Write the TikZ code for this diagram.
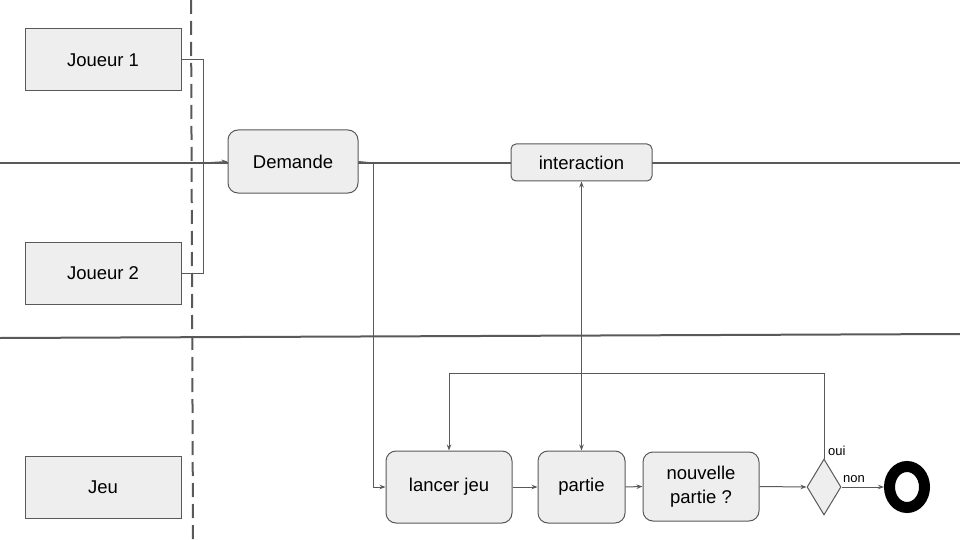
\documentclass[tikz,border=0pt]{standalone}
\usepackage{fontspec}
\setmainfont{Liberation Sans}
\usetikzlibrary{shapes.geometric,arrows.meta}
\definecolor{ln}{HTML}{595959}
\definecolor{bx}{HTML}{EEEEEE}
\tikzset{
  actor/.style={draw=ln,fill=bx,line width=1pt,rectangle,minimum width=156pt,minimum height=62pt,inner sep=0pt,font=\fontsize{18.5}{22}\selectfont},
  act/.style={draw=ln,fill=bx,line width=1pt,rectangle,rounded corners=10pt,inner sep=0pt,align=center,font=\fontsize{18.5}{24}\selectfont},
  conn/.style={draw=ln,line width=1pt},
  arr/.style={conn,-{Stealth[length=6pt,width=4.5pt]}},
  lane/.style={draw=ln,line width=2pt},
  small/.style={font=\fontsize{13}{15}\selectfont,inner sep=0pt}
}
\begin{document}
\begin{tikzpicture}[x=1pt,y=-1pt]
\useasboundingbox (0,0) rectangle (960,540);
% lanes
\draw[lane] (0,163) -- (960,163);
\draw[lane] (0,338) -- (960,334);
\draw[lane,dash pattern=on 14pt off 7pt] (191,0) -- (193,540);
% actors
\node[actor] (j1) at (103,60) {Joueur 1};
\node[actor] (j2) at (103,273) {Joueur 2};
\node[actor] (jeu) at (103,487) {Jeu};
% activities
\node[act,minimum width=130pt,minimum height=63pt] (dem) at (293,161.5) {Demande};
\node[act,rounded corners=5pt,minimum width=141pt,minimum height=37pt] (int) at (581.5,162.5) {interaction};
\node[act,minimum width=126pt,minimum height=72pt] (lj) at (449,487) {lancer jeu};
\node[act,minimum width=87pt,minimum height=72pt] (part) at (581.5,487) {partie};
\node[act,minimum width=116pt,minimum height=69pt] (np) at (701,486.5) {nouvelle\\partie ?};
\node[diamond,draw=ln,fill=bx,line width=1pt,minimum width=34pt,minimum height=56pt,inner sep=0pt] (dia) at (824,487) {};
\node[ellipse,draw=black,line width=11pt,fill=white,minimum width=35pt,minimum height=41pt,inner sep=0pt] (end) at (907,487) {};
% connectors
\coordinate (jm) at (203,163);
\draw[conn] (j1.east) -| (jm);
\draw[conn] (j2.east) -| (jm);
\draw[arr] (jm) -- (dem.west);
\coordinate (dm) at (373,163);
\draw[conn] (dem.east) -- (dm);
\draw[arr] (dm) |- (lj.west);
\draw[conn,{Stealth[length=6pt,width=4.5pt]}-{Stealth[length=6pt,width=4.5pt]}] (int.south) -- (part.north);
\draw[arr] (lj.east) -- (part.west);
\draw[arr] (part.east) -- (np.west);
\draw[arr] (np.east) -- (dia.west);
\coordinate (lp) at (824,373);
\draw[conn] (dia.north) -- (lp);
\draw[arr] (lp) -| (lj.north);
\draw[arr] (dia.east) -- (end.west);
\node[small,anchor=west] (oui) at (828,451) {oui};
\node[small,anchor=west] (non) at (843,479) {non};
\end{tikzpicture}
\end{document}
